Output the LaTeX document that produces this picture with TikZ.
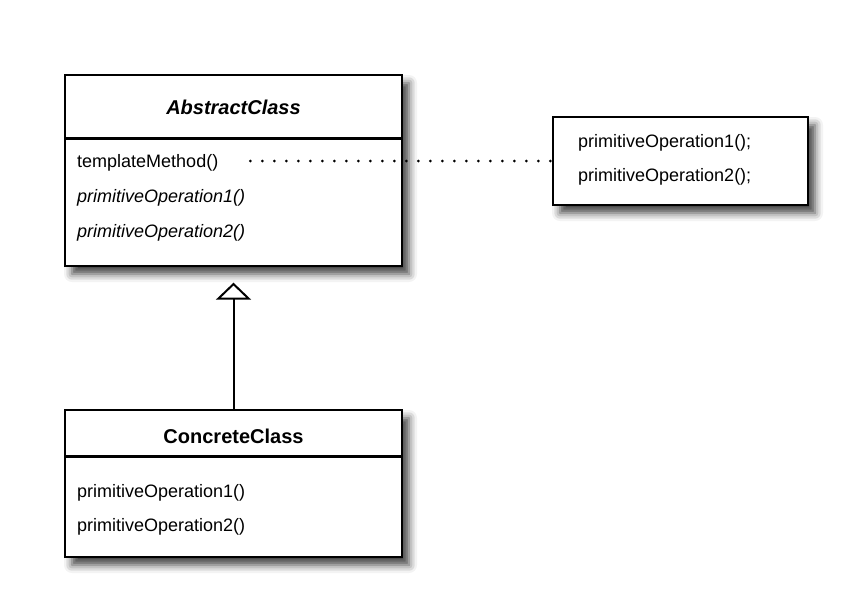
\documentclass[tikz,border=0pt]{standalone}
\usepackage{fontspec}
\setmainfont{Liberation Sans}
\usetikzlibrary{shadows.blur,arrows.meta}
\tikzset{
  classbox/.style={draw=black, line width=1.3pt, fill=white, inner sep=0pt,
    blur shadow={shadow xshift=7pt, shadow yshift=-8pt, shadow blur radius=8pt, shadow opacity=75}},
  divider/.style={line width=2.4pt, black},
  titletext/.style={anchor=base, font=\fontsize{20}{24}\selectfont\bfseries, inner sep=0pt},
  optext/.style={anchor=base west, font=\fontsize{18}{22}\selectfont, inner sep=0pt},
  dotline/.style={line width=3pt, line cap=round, dash pattern=on 0pt off 12pt, black},
  inherit/.style={line width=2pt, -{Triangle[open, width=35pt, length=17pt, line width=2pt]}, shorten >=16pt}
}
\begin{document}
\begin{tikzpicture}[x=1pt,y=-1pt]
\useasboundingbox (0,0) rectangle (850,606);
% boxes
\node[classbox, minimum width=337pt, minimum height=191pt] (abs) at (233.5,170.5) {};
\node[classbox, minimum width=255pt, minimum height=88pt] (note) at (680.5,161) {};
\node[classbox, minimum width=337pt, minimum height=147pt] (conc) at (233.5,483.5) {};
% dividers
\draw[divider] ([yshift=-64pt]abs.north west) -- ([yshift=-64pt]abs.north east);
\draw[divider] ([yshift=-47pt]conc.north west) -- ([yshift=-47pt]conc.north east);
% texts
\node[titletext] (abstitle) at (233.5,114) {\itshape AbstractClass};
\node[optext] (tm) at (77,167) {templateMethod()};
\node[optext] (ap1) at (77,202) {\itshape primitiveOperation1()};
\node[optext] (ap2) at (77,237) {\itshape primitiveOperation2()};
\node[optext] (n1) at (578,147) {primitiveOperation1();};
\node[optext] (n2) at (578,181) {primitiveOperation2();};
\node[titletext] (conctitle) at (233.5,443) {ConcreteClass};
\node[optext] (c1) at (77,497) {primitiveOperation1()};
\node[optext] (c2) at (77,531) {primitiveOperation2()};
% connectors
\draw[dotline] ([xshift=32pt, yshift=6pt]tm.base east) -- (note.west);
\draw[inherit] (conc.north) -- (abs.south);
\end{tikzpicture}
\end{document}
